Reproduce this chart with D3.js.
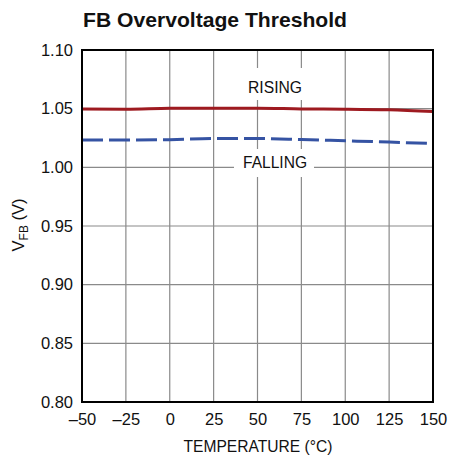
<!DOCTYPE html>
<html><head><meta charset="utf-8">
<script src="https://cdn.jsdelivr.net/npm/d3@7"></script>
<style>
body{margin:0;background:#fff;}
text{font-family:"Liberation Sans",Arial,sans-serif;}
</style></head>
<body><svg id="c" width="449" height="456"></svg>
<script>
const temps = [-50, -25, 0, 25, 50, 75, 100, 125, 150];
const rising = [1.0498, 1.0495, 1.0503, 1.0504, 1.0504, 1.0498, 1.0496, 1.0490, 1.0475];
const falling = [1.0232, 1.0233, 1.0236, 1.0245, 1.0246, 1.0237, 1.0226, 1.0215, 1.0203];
const xTicks = [-50, -25, 0, 25, 50, 75, 100, 125, 150];
const yTicks = [0.80, 0.85, 0.90, 0.95, 1.00, 1.05, 1.10];

const svg = d3.select("#c");
const L = 82, R = 433, T = 50, B = 402;
const x = d3.scaleLinear().domain([-50, 150]).range([L, R]);
const y = d3.scaleLinear().domain([0.80, 1.10]).range([B, T]);

svg.append("text").attr("x", 83).attr("y", 27).attr("font-size", 21).attr("font-weight", "bold")
  .attr("fill", "#111").attr("textLength", 264).attr("lengthAdjust", "spacingAndGlyphs")
  .text("FB Overvoltage Threshold");

// grid
const g = svg.append("g");
g.selectAll("line.vx").data(xTicks.slice(1, -1)).enter().append("line")
  .attr("x1", d => x(d)).attr("x2", d => x(d)).attr("y1", T).attr("y2", B)
  .attr("stroke", "#8a8a8a").attr("stroke-width", 1.2);
g.selectAll("line.hy").data(yTicks.slice(1, -1)).enter().append("line")
  .attr("x1", L).attr("x2", R).attr("y1", d => y(d)).attr("y2", d => y(d))
  .attr("stroke", "#8a8a8a").attr("stroke-width", 1.2);

// label boxes
svg.append("rect").attr("x", 236).attr("y", 68).attr("width", 78).attr("height", 32).attr("fill", "#fff");
svg.append("rect").attr("x", 234).attr("y", 149).attr("width", 80).attr("height", 28).attr("fill", "#fff");

const line = d3.line().x((d, i) => x(temps[i])).y(d => y(d)).curve(d3.curveMonotoneX);
svg.append("path").datum(rising).attr("d", line).attr("fill", "none")
  .attr("stroke", "#9e1a20").attr("stroke-width", 3);
svg.append("path").datum(falling).attr("d", line).attr("fill", "none")
  .attr("stroke", "#3553a3").attr("stroke-width", 3).attr("stroke-dasharray", "21,6");

svg.append("text").attr("x", 275).attr("y", 93).attr("text-anchor", "middle").attr("font-size", 16)
  .attr("fill", "#111").attr("textLength", 54).attr("lengthAdjust", "spacingAndGlyphs").text("RISING");
svg.append("text").attr("x", 275).attr("y", 168).attr("text-anchor", "middle").attr("font-size", 16)
  .attr("fill", "#111").attr("textLength", 64).attr("lengthAdjust", "spacingAndGlyphs").text("FALLING");

// frame
svg.append("rect").attr("x", L).attr("y", T).attr("width", R - L).attr("height", B - T)
  .attr("fill", "none").attr("stroke", "#000").attr("stroke-width", 2);

// axes
const xa = svg.append("g").attr("transform", `translate(0,${B})`)
  .call(d3.axisBottom(x).tickValues(xTicks).tickSize(0).tickPadding(11)
    .tickFormat(d => d < 0 ? "\u2013" + Math.abs(d) : d));
xa.select(".domain").remove();
xa.selectAll("text").attr("font-size", 16.5).attr("fill", "#111");

const ya = svg.append("g").attr("transform", `translate(${L},0)`)
  .call(d3.axisLeft(y).tickValues(yTicks).tickSize(0).tickPadding(9).tickFormat(d3.format(".2f")));
ya.select(".domain").remove();
ya.selectAll("text").attr("font-size", 16.5).attr("fill", "#111");

svg.append("text").attr("x", 258).attr("y", 452).attr("text-anchor", "middle").attr("font-size", 16.5)
  .attr("fill", "#111").attr("textLength", 149).attr("lengthAdjust", "spacingAndGlyphs").text("TEMPERATURE (°C)");

const yl = svg.append("text").attr("transform", "translate(24,225) rotate(-90)")
  .attr("text-anchor", "middle").attr("font-size", 16.5).attr("fill", "#111");
yl.append("tspan").text("V");
yl.append("tspan").attr("font-size", 12).attr("dy", 4).text("FB");
yl.append("tspan").attr("dy", -4).text(" (V)");
</script></body></html>
